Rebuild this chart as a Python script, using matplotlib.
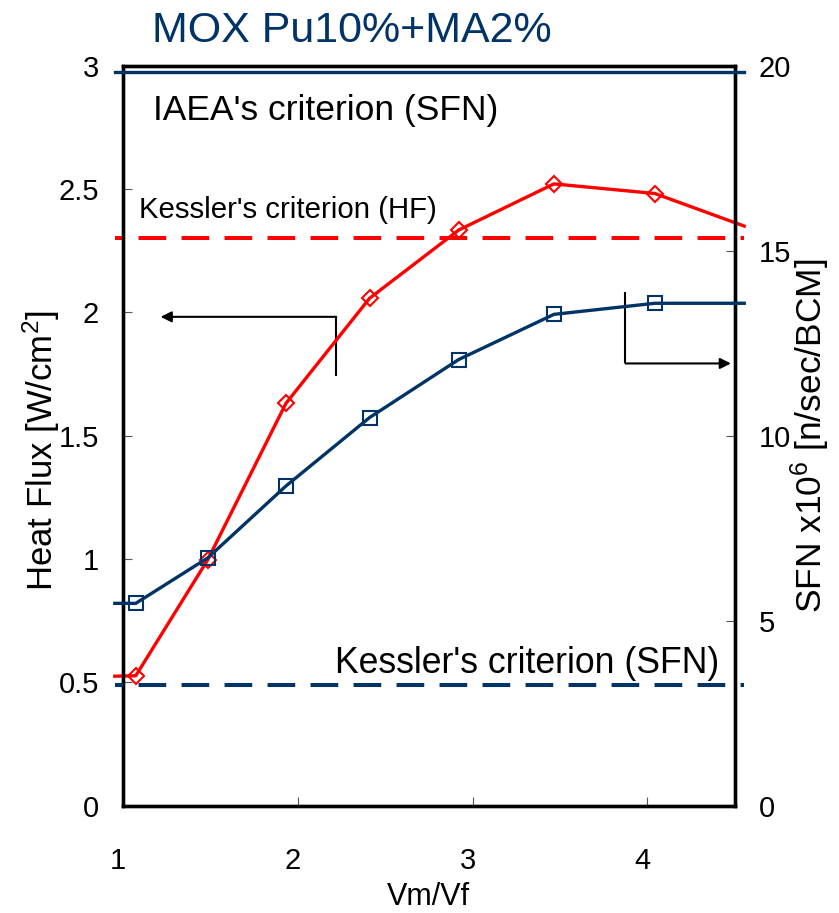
import matplotlib
matplotlib.use('Agg')
import matplotlib.pyplot as plt
import matplotlib.transforms as mtransforms

plt.rcParams['font.family'] = ['Liberation Sans', 'DejaVu Sans']
plt.rcParams['mathtext.default'] = 'regular'

NAVY = '#003366'
RED = '#FF0000'

# Vm/Vf positions of the calculated points
vm_vf = [1.075, 1.487, 1.933, 2.411, 2.921, 3.465, 4.042]
# heat flux [W/cm2], left axis
heat_flux = [0.527, 0.998, 1.631, 2.057, 2.334, 2.521, 2.482]
# SFN x1e6 [n/sec/BCM], right axis
sfn = [5.47, 6.70, 8.64, 10.49, 12.06, 13.28, 13.58]

# the series lines run a little past the frame on both sides
x_left_end, x_right_end = 0.955, 4.553
hf_left_end, hf_right_end = 0.525, 2.350
sfn_left_end, sfn_right_end = 5.47, 13.58

# criteria
iaea_sfn = 19.82
kessler_hf = 2.30
kessler_sfn = 3.26

x_ticks = [1, 2, 3, 4]
hf_ticks = [0, 0.5, 1, 1.5, 2, 2.5, 3]
hf_labels = ['0', '0.5', '1', '1.5', '2', '2.5', '3']
sfn_ticks = [0, 5, 10, 15, 20]

fig = plt.figure(figsize=(8.39, 9.13), dpi=100)
ax = fig.add_axes([0.1462, 0.1175, 0.7298, 0.8105])
ax2 = ax.twinx()

ax.set_xlim(1, 4.5)
ax.set_ylim(0, 3)
ax2.set_ylim(0, 20)

# criterion lines
dash = (14.0 / 2.9, (8.3 * 2.4 / 2.9, 4.6 * 2.4 / 2.9))
ax2.plot([x_left_end, x_right_end], [iaea_sfn, iaea_sfn], color=NAVY, lw=2.4,
         clip_on=False, zorder=3)
ax.plot([x_left_end, x_right_end], [kessler_hf, kessler_hf], color=RED, lw=2.9,
        linestyle=dash, clip_on=False, zorder=3)
ax2.plot([x_left_end, x_right_end], [kessler_sfn, kessler_sfn], color=NAVY, lw=2.9,
         linestyle=dash, clip_on=False, zorder=3)

# series
ax.plot([x_left_end] + vm_vf + [x_right_end], [hf_left_end] + heat_flux + [hf_right_end],
        color=RED, lw=2.4, clip_on=False, zorder=4)
ax.plot(vm_vf, heat_flux, linestyle='none', marker='D', ms=8, mfc='none',
        mec=RED, mew=1.5, clip_on=False, zorder=5)
ax2.plot([x_left_end] + vm_vf + [x_right_end], [sfn_left_end] + sfn + [sfn_right_end],
         color=NAVY, lw=2.4, clip_on=False, zorder=4)
ax2.plot(vm_vf, sfn, linestyle='none', marker='s', ms=10.5, mfc='none',
         mec=NAVY, mew=1.5, clip_on=False, zorder=5)

# arrows pointing to the axes
ax.plot([2.221, 2.221], [1.743, 1.982], color='black', lw=1.5, solid_capstyle='butt')
ax.annotate('', xy=(1.217, 1.982), xytext=(2.221, 1.982),
            arrowprops=dict(arrowstyle='-|>', color='black', lw=1.5,
                            mutation_scale=16, shrinkA=0, shrinkB=0))
ax.plot([3.874, 3.874], [2.084, 1.793], color='black', lw=1.5, solid_capstyle='butt')
ax.annotate('', xy=(4.477, 1.793), xytext=(3.874, 1.793),
            arrowprops=dict(arrowstyle='-|>', color='black', lw=1.5,
                            mutation_scale=16, shrinkA=0, shrinkB=0))

# text
ax.text(1.172, 2.78, "IAEA's criterion (SFN)", fontsize=25.5, va='baseline', ha='left')
ax.text(1.092, 2.381, "Kessler's criterion (HF)", fontsize=21.2, va='baseline', ha='left')
ax.text(2.215, 0.538, "Kessler's criterion (SFN)", fontsize=25.7, va='baseline', ha='left')
fig.text(0.1812, 0.9543, 'MOX Pu10%+MA2%', fontsize=31, color=NAVY, va='baseline', ha='left')

fig.text(0.0489, 0.507, 'Heat Flux [W/cm$^{2}$]', fontsize=25, rotation=90,
         ha='center', va='center')
fig.text(0.966, 0.5228, 'SFN x10$^{6}$ [n/sec/BCM]', fontsize=25.5, rotation=90,
         ha='center', va='center')
fig.text(0.511, 0.0085, 'Vm/Vf', fontsize=22, ha='center', va='baseline')

# ticks and frame
ax.set_xticks(x_ticks)
ax.set_yticks(hf_ticks)
ax.set_yticklabels(hf_labels)
ax2.set_yticks(sfn_ticks)
ax.tick_params(axis='both', direction='in', length=6.5, width=0.8, color='#555555',
               labelsize=21)
ax.tick_params(axis='x', pad=30)
ax.tick_params(axis='y', pad=17)
ax2.tick_params(axis='y', direction='in', length=6.5, width=0.8, color='#555555',
                labelsize=21, pad=17)

shift = mtransforms.ScaledTranslation(-5 / 100, 0, fig.dpi_scale_trans)
for lab in ax.get_xticklabels():
    lab.set_transform(lab.get_transform() + shift)

for a in (ax, ax2):
    for s in a.spines.values():
        s.set_linewidth(2.4)
        s.set_color('black')

fig.savefig('out.png', dpi=100)
